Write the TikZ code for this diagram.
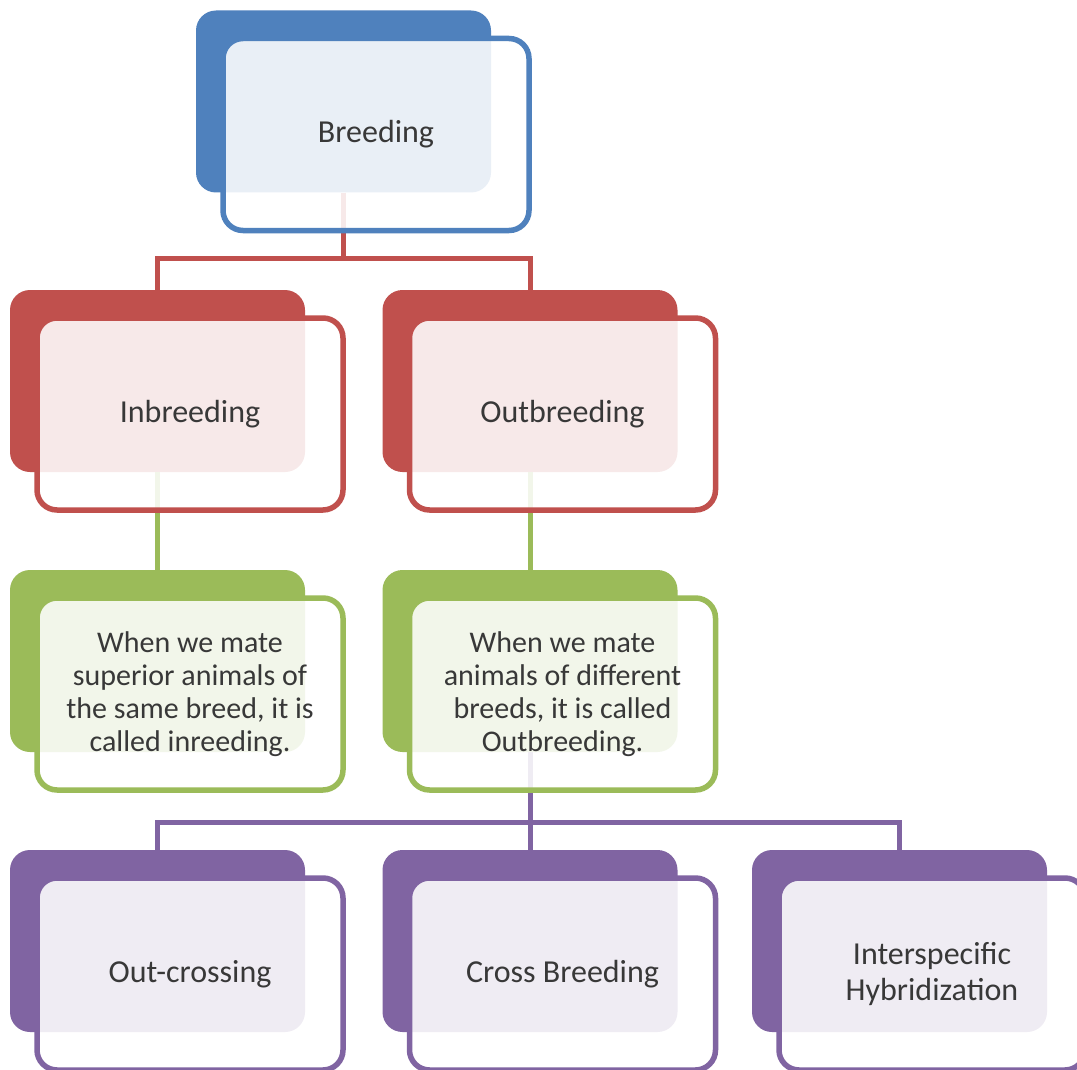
\documentclass[tikz,border=0pt]{standalone}
\usepackage{fontspec}
\setmainfont{Carlito}
\usepackage{tikz}
\usetikzlibrary{positioning}

\definecolor{bblue}{HTML}{4F81BD}
\definecolor{bred}{HTML}{C0504D}
\definecolor{bgreen}{HTML}{9BBB59}
\definecolor{bpurple}{HTML}{8064A2}

\tikzset{
    backbox/.style={rectangle, rounded corners=20pt, fill=#1, minimum width=295pt, minimum height=182pt, inner sep=0pt},
    frontbox/.style={rectangle, rounded corners=20pt, draw=#1, line width=5.5pt, fill=white, fill opacity=0.88, text opacity=1,
        minimum width=306pt, minimum height=192pt, inner sep=0pt, align=center, text=black!78,
        font=\fontsize{32}{36}\selectfont},
    parabox/.style={font=\fontsize{30}{33}\selectfont},
    link/.style={draw=#1, line width=5pt}
}

\begin{document}
\begin{tikzpicture}[x=1pt, y=-1pt]
        \useasboundingbox (0,0) rectangle (1077,1070);
        \clip (0,0) rectangle (1077,1070);
        \fill[white] (0,0) rectangle (1077,1070);

        % Back boxes
        \node[backbox=bblue] (breed_b) at (343.5, 101.5) {};
        \node[backbox=bred] (inb_b) at (157.5, 381) {};
        \node[backbox=bred] (outb_b) at (530, 381) {};
        \node[backbox=bgreen] (inb_d) at (157.5, 661) {};
        \node[backbox=bgreen] (outb_d) at (530, 661) {};
        \node[backbox=bpurple] (oc_b) at (157.5, 941) {};
        \node[backbox=bpurple] (cb_b) at (530, 941) {};
        \node[backbox=bpurple] (ih_b) at (899.5, 941) {};

        % Connectors
        \draw[link=bred] (breed_b.south) -- ++(0,66) -| (inb_b.north);
        \draw[link=bred] (breed_b.south) -- ++(0,66) -| (outb_b.north);
        \draw[link=bgreen] (inb_b.south) -- (inb_d.north);
        \draw[link=bgreen] (outb_b.south) -- (outb_d.north);
        \draw[link=bpurple] (outb_d.south) -- ++(0,70) -| (oc_b.north);
        \draw[link=bpurple] (outb_d.south) -- (cb_b.north);
        \draw[link=bpurple] (outb_d.south) -- ++(0,70) -| (ih_b.north);

        % Front boxes
        \node[frontbox=bblue] (breed_f) at ([shift={(32.5,33)}]breed_b) {Breeding};
        \node[frontbox=bred] (inb_f) at ([shift={(32.5,33)}]inb_b) {Inbreeding};
        \node[frontbox=bred] (outb_f) at ([shift={(32.5,33)}]outb_b) {Outbreeding};
        \node[frontbox=bgreen, parabox] (inbd_f) at ([shift={(32.5,33)}]inb_d)
            {When we mate\\superior animals of\\the same breed, it is\\called inreeding.};
        \node[frontbox=bgreen, parabox] (outbd_f) at ([shift={(32.5,33)}]outb_d)
            {When we mate\\animals of different\\breeds, it is called\\Outbreeding.};
        \node[frontbox=bpurple] (oc_f) at ([shift={(32.5,33)}]oc_b) {Out-crossing};
        \node[frontbox=bpurple] (cb_f) at ([shift={(32.5,33)}]cb_b) {Cross Breeding};
        \node[frontbox=bpurple] (ih_f) at ([shift={(32.5,33)}]ih_b) {Interspecific\\Hybridization};
    \end{tikzpicture}
\end{document}
